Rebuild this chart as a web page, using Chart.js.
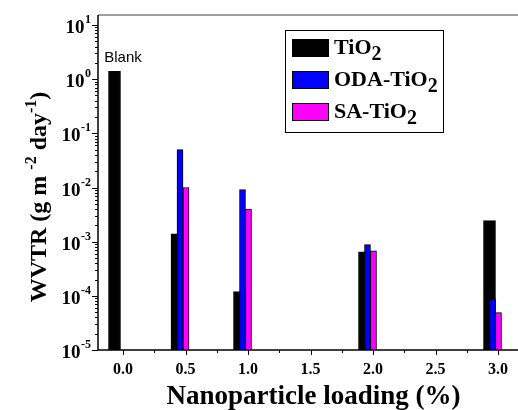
<!DOCTYPE html>
<html>
<head>
<meta charset="utf-8">
<script src="https://cdn.jsdelivr.net/npm/chart.js@4.4.0/dist/chart.umd.min.js"></script>
<style>
  html, body { margin: 0; padding: 0; background: #fff; overflow: hidden; }
  canvas { display: block; }
</style>
</head>
<body>
<canvas id="wvtr-chart" width="530" height="410"></canvas>
<script>
// nanoparticle loading (%), 0.0 is the blank film
const loadings = [0, 0.5, 1.0, 2.0, 3.0];
// WVTR in g m-2 day-1
const tio2 = [1.4, 1.4e-3, 1.2e-4, 6.5e-4, 2.45e-3];
const odaTio2 = [null, 0.05, 9.2e-3, 8.8e-4, 8.8e-5];
const saTio2 = [null, 0.01, 4.0e-3, 6.8e-4, 4.9e-5];
const seriesNames = ['TiO', 'ODA-TiO', 'SA-TiO'];
const xTicks = [0, 0.5, 1.0, 1.5, 2.0, 2.5, 3.0];
const yExponents = [-5, -4, -3, -2, -1, 0, 1];

const SERIF = "'Liberation Serif', 'Times New Roman', serif";
const colors = ['#000000', '#0000ff', '#ff00ff'];
// bars sit a little left of the tick, black one is wider and drawn behind
const barShift = [-0.068, -0.044, 0.004];
const barWidth = [12, 6, 6];

function toPoints(values, shift) {
    return loadings.map((x, i) => ({ x: x + shift, y: values[i] }));
}

const axesPlugin = {
    id: 'axesPlugin',
    afterDraw(chart) {
        const ctx = chart.ctx;
        const area = chart.chartArea;
        const xs = chart.scales.x;
        const ys = chart.scales.y;
        ctx.save();

        // frame
        ctx.strokeStyle = '#808080';
        ctx.lineWidth = 1.5;
        ctx.beginPath();
        ctx.moveTo(area.left, area.top);
        ctx.lineTo(area.right, area.top);
        ctx.stroke();
        ctx.strokeStyle = '#000';
        ctx.beginPath();
        ctx.moveTo(area.left, area.top);
        ctx.lineTo(area.left, area.bottom);
        ctx.lineTo(area.right, area.bottom);
        ctx.stroke();

        // y ticks
        ctx.lineWidth = 1;
        yExponents.forEach(e => {
            const y = Math.round(ys.getPixelForValue(Math.pow(10, e))) + 0.5;
            ctx.beginPath();
            ctx.moveTo(area.left - 6, y);
            ctx.lineTo(area.left, y);
            ctx.stroke();
            for (let m = 2; m <= 9; m++) {
                const v = m * Math.pow(10, e);
                if (v > ys.max) break;
                const ym = Math.round(ys.getPixelForValue(v)) + 0.5;
                ctx.beginPath();
                ctx.moveTo(area.left - 3, ym);
                ctx.lineTo(area.left, ym);
                ctx.stroke();
            }
            // label 10^e
            const expText = String(e);
            ctx.fillStyle = '#000';
            ctx.textBaseline = 'alphabetic';
            ctx.textAlign = 'left';
            ctx.font = 'bold 12px ' + SERIF;
            const we = ctx.measureText(expText).width;
            ctx.font = 'bold 19px ' + SERIF;
            const wb = ctx.measureText('10').width;
            const right = 91;
            ctx.fillText('10', right - we - wb - 0.5, y + 7);
            ctx.font = 'bold 12px ' + SERIF;
            ctx.fillText(expText, right - we, y - 3);
        });

        // x ticks
        for (let v = 0; v <= xs.max + 1e-9; v += 0.25) {
            const x = Math.round(xs.getPixelForValue(v)) + 0.5;
            const major = Math.abs(v * 2 - Math.round(v * 2)) < 1e-6;
            ctx.beginPath();
            ctx.moveTo(x, area.bottom);
            ctx.lineTo(x, area.bottom + (major ? 5 : 3));
            ctx.stroke();
        }
        ctx.font = 'bold 16px ' + SERIF;
        ctx.textAlign = 'center';
        xTicks.forEach(v => {
            ctx.fillText(v.toFixed(1), xs.getPixelForValue(v), area.bottom + 24);
        });

        // x title
        ctx.font = 'bold 27px ' + SERIF;
        ctx.fillText('Nanoparticle loading (%)', (area.left + area.right) / 2 + 3, 404);

        // y title with superscripts
        const parts = [
            { t: 'WVTR (g m ', sup: false },
            { t: '-2', sup: true },
            { t: ' day', sup: false },
            { t: '-1', sup: true },
            { t: ')', sup: false }
        ];
        const fontFor = p => (p.sup ? 'bold 16px ' : 'bold 24px ') + SERIF;
        let total = 0;
        parts.forEach(p => { ctx.font = fontFor(p); p.w = ctx.measureText(p.t).width; total += p.w; });
        ctx.translate(46, 197);
        ctx.rotate(-Math.PI / 2);
        ctx.textAlign = 'left';
        let cx = -total / 2;
        parts.forEach(p => {
            ctx.font = fontFor(p);
            ctx.fillText(p.t, cx, p.sup ? -10 : 0);
            cx += p.w;
        });
        ctx.setTransform(1, 0, 0, 1, 0, 0);

        // "Blank" label
        ctx.font = '15px "Liberation Sans", Arial, sans-serif';
        ctx.textAlign = 'center';
        ctx.fillText('Blank', xs.getPixelForValue(0), 62);

        // legend box
        ctx.lineWidth = 1;
        ctx.strokeStyle = '#000';
        ctx.strokeRect(285.5, 30.5, 158, 102);
        ctx.textAlign = 'left';
        seriesNames.forEach((name, i) => {
            const top = 39 + i * 32;
            ctx.fillStyle = colors[i];
            ctx.fillRect(292, top, 37, 18);
            ctx.strokeRect(292.5, top + 0.5, 36, 17);
            ctx.fillStyle = '#000';
            ctx.font = 'bold 22px ' + SERIF;
            ctx.fillText(name, 334, top + 15);
            const w = ctx.measureText(name).width;
            ctx.font = 'bold 20px ' + SERIF;
            ctx.fillText('2', 334 + w, top + 21);
        });
        ctx.restore();
    }
};

const datasets = [tio2, odaTio2, saTio2].map((vals, i) => ({
    label: seriesNames[i] + '2',
    data: toPoints(vals, barShift[i]),
    backgroundColor: colors[i],
    borderColor: '#000',
    borderWidth: 1,
    barThickness: barWidth[i],
    grouped: false,
    order: 2 - i
}));

const ctx = document.getElementById('wvtr-chart').getContext('2d');
new Chart(ctx, {
    type: 'bar',
    data: { datasets: datasets },
    options: {
        responsive: false,
        animation: false,
        layout: { padding: { left: 98, right: 7, top: 15, bottom: 60 } },
        scales: {
            x: { type: 'linear', display: false, offset: false, min: -0.2, max: 3.2 },
            y: { type: 'logarithmic', display: false, min: 1e-5, max: 15.3 }
        },
        plugins: {
            legend: { display: false },
            tooltip: { enabled: false }
        }
    },
    plugins: [axesPlugin]
});
</script>
</body>
</html>
